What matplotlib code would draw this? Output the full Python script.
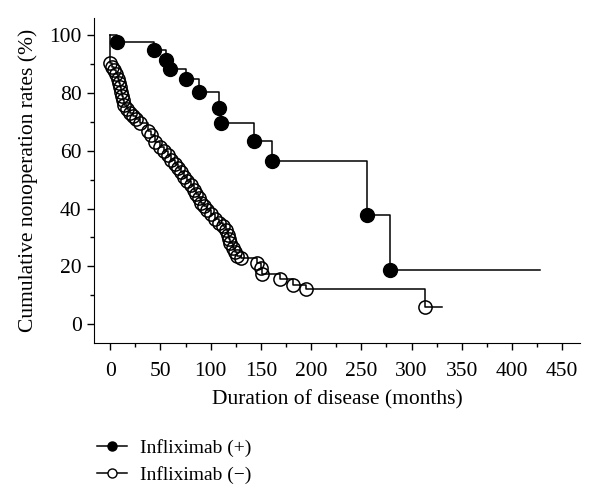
import matplotlib
matplotlib.use("Agg")
import matplotlib.pyplot as plt
from matplotlib.lines import Line2D
from matplotlib.ticker import MultipleLocator

# Infliximab (+): event times (months) and cumulative nonoperation rate (%)
pos_times = [7, 44, 56, 59, 75, 88, 108, 110, 143, 161, 256, 279]
pos_rates = [97.6, 94.8, 91.3, 88.2, 85.0, 80.3, 75.0, 69.8, 63.5, 56.4, 37.8, 18.8]
pos_end = 428

# Infliximab (-)
neg_times = [0, 2, 4, 6, 8, 9, 10, 11, 12, 13, 14, 17, 20, 23, 26, 30, 38, 41, 45,
             50, 54, 57, 60, 64, 67, 70, 73, 76, 80, 83, 85, 88, 90, 93, 96, 100,
             104, 108, 112, 115, 117, 118, 119, 122, 124, 126, 130, 146, 150, 151,
             169, 182, 195, 313]
neg_rates = [90.5, 89.0, 88.0, 86.5, 85.0, 83.5, 82.0, 80.5, 79.0, 77.5, 76.0, 74.5,
             73.0, 72.0, 71.0, 69.5, 67.0, 65.5, 63.0, 61.5, 60.0, 58.5, 57.0, 55.5,
             54.0, 52.5, 51.0, 49.5, 48.0, 46.5, 45.0, 43.5, 42.0, 41.0, 39.5, 38.0,
             36.5, 35.0, 34.0, 32.5, 31.0, 29.5, 28.0, 26.5, 25.0, 23.5, 22.8, 21.0,
             19.4, 17.5, 15.6, 13.5, 12.2, 6.0]
neg_end = 330

plt.rcParams["font.family"] = ["Liberation Serif", "DejaVu Serif"]
plt.rcParams["font.size"] = 15.5

fig = plt.figure(figsize=(6, 4.87), dpi=100)
ax = fig.add_axes([0.157, 0.296, 0.81, 0.667])

lw = 1.1
# step curves
ax.step([0] + pos_times + [pos_end], [100] + pos_rates + [pos_rates[-1]],
        where="post", color="black", lw=lw)
ax.step([0] + neg_times + [neg_end], [100] + neg_rates + [neg_rates[-1]],
        where="post", color="black", lw=lw)
# event markers
ax.plot(pos_times, pos_rates, "o", ms=10, mfc="black", mec="black", ls="none")
ax.plot(neg_times, neg_rates, "o", ms=9.5, mfc="none", mec="black", mew=1.1, ls="none")

ax.set_xlim(-16, 468)
ax.set_ylim(-6.5, 106)
ax.xaxis.set_minor_locator(MultipleLocator(25))
ax.yaxis.set_major_locator(MultipleLocator(20))
ax.yaxis.set_minor_locator(MultipleLocator(10))
ax.set_xticks(range(0, 451, 50))
ax.spines["top"].set_visible(False)
ax.spines["right"].set_visible(False)
ax.tick_params(which="major", direction="out", length=5, width=1)
ax.tick_params(which="minor", direction="out", length=3, width=1)
ax.tick_params(axis="x", pad=9)
ax.tick_params(axis="y", pad=4)
ax.set_xlabel("Duration of disease (months)", labelpad=6)
ax.set_ylabel("Cumulative nonoperation rates (%)", labelpad=8)

handles = [
    Line2D([], [], color="black", lw=lw, marker="o", ms=6.5, mfc="black"),
    Line2D([], [], color="black", lw=lw, marker="o", ms=6.5, mfc="white"),
]
fig.legend(handles, ["Infliximab (+)", "Infliximab (\u2212)"], loc="center left",
           bbox_to_anchor=(0.132, 0.053), frameon=False, handlelength=1.55,
           labelspacing=0.45, handletextpad=0.7, fontsize=14)

fig.savefig("out.png", dpi=100)
